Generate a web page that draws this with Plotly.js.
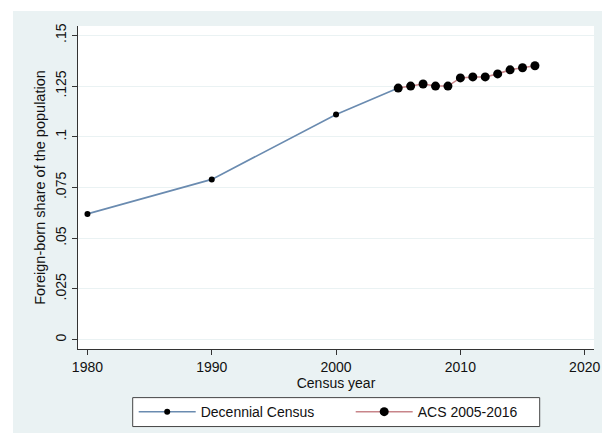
<!DOCTYPE html>
<html>
<head>
<meta charset="utf-8">
<script src="https://cdn.plot.ly/plotly-3.0.1.min.js"></script>
<style>
html, body { margin: 0; padding: 0; background: #ffffff; width: 602px; height: 437px; overflow: hidden; }
#chart { position: absolute; left: 13px; top: 11px; width: 589px; height: 422px; }
</style>
</head>
<body>
<div id="chart"></div>
<script>
// Data
const censusYears = [1980, 1990, 2000, 2005];
const censusShare = [0.062, 0.079, 0.111, 0.124];
const acsYears = [2005, 2006, 2007, 2008, 2009, 2010, 2011, 2012, 2013, 2014, 2015, 2016];
const acsShare = [0.124, 0.125, 0.126, 0.125, 0.125, 0.129, 0.1295, 0.1295, 0.131, 0.133, 0.134, 0.135];
const yTickVals = [0, 0.025, 0.05, 0.075, 0.1, 0.125, 0.15];
const yTickText = ['0', '.025', '.05', '.075', '.1', '.125', '.15'];
const xTickVals = [1980, 1990, 2000, 2010, 2020];
const seriesNames = ['Decennial Census', 'ACS 2005-2016'];

const font = { family: 'Liberation Sans, Arial, sans-serif', size: 14, color: '#111111' };

// helpers converting page pixels to paper fractions (plot area 78..594 x 26..349)
const px = v => (v - 78.3) / 516;
const py = v => (349.3 - v) / 323.6;

const traces = [
  {
    x: censusYears, y: censusShare, name: seriesNames[0],
    type: 'scatter', mode: 'lines+markers',
    line: { color: '#6a8bb0', width: 1.6 },
    marker: { color: '#000000', size: 6 }
  },
  {
    x: acsYears, y: acsShare, name: seriesNames[1],
    type: 'scatter', mode: 'lines+markers',
    line: { color: '#c8858a', width: 1.6 },
    marker: { color: '#000000', size: 9 }
  }
];

const layout = {
  width: 589, height: 422,
  margin: { l: 65, r: 8, t: 15, b: 84, autoexpand: false },
  paper_bgcolor: '#eaf2f3',
  plot_bgcolor: '#ffffff',
  font: font,
  showlegend: true,
  xaxis: {
    range: [1979.24, 2020.75],
    tickvals: xTickVals,
    ticks: 'outside', ticklen: 5, tickcolor: '#333333', tickwidth: 1,
    showline: true, linecolor: '#333333', linewidth: 1,
    showgrid: false, zeroline: false,
    tickfont: { size: 14 },
    title: { text: 'Census year', font: { size: 14 }, standoff: 4 }
  },
  yaxis: {
    range: [-0.0046, 0.1546],
    tickvals: yTickVals, ticktext: yTickText,
    tickangle: -90,
    ticks: 'outside', ticklen: 5, tickcolor: '#333333', tickwidth: 1,
    showline: true, linecolor: '#333333', linewidth: 1,
    showgrid: true, gridcolor: '#eaf2f3', gridwidth: 1,
    zeroline: false,
    tickfont: { size: 14 },
    title: { text: 'Foreign-born share of the population', font: { size: 14.5 }, standoff: 4 }
  },
  shapes: [
    {
      type: 'rect', xref: 'paper', yref: 'paper',
      x0: px(133), x1: px(540),
      y0: py(398), y1: py(427),
      line: { color: '#444444', width: 1 },
      fillcolor: '#ffffff',
      layer: 'below'
    }
  ],
  legend: {
    orientation: 'h',
    x: px(134), xanchor: 'left',
    y: py(412.5), yanchor: 'middle',
    bgcolor: 'rgba(0,0,0,0)',
    borderwidth: 0,
    font: { size: 14 },
    entrywidth: 145,
    itemwidth: 57
  }
};

Plotly.newPlot('chart', traces, layout, { displayModeBar: false, staticPlot: true });
</script>
</body>
</html>
